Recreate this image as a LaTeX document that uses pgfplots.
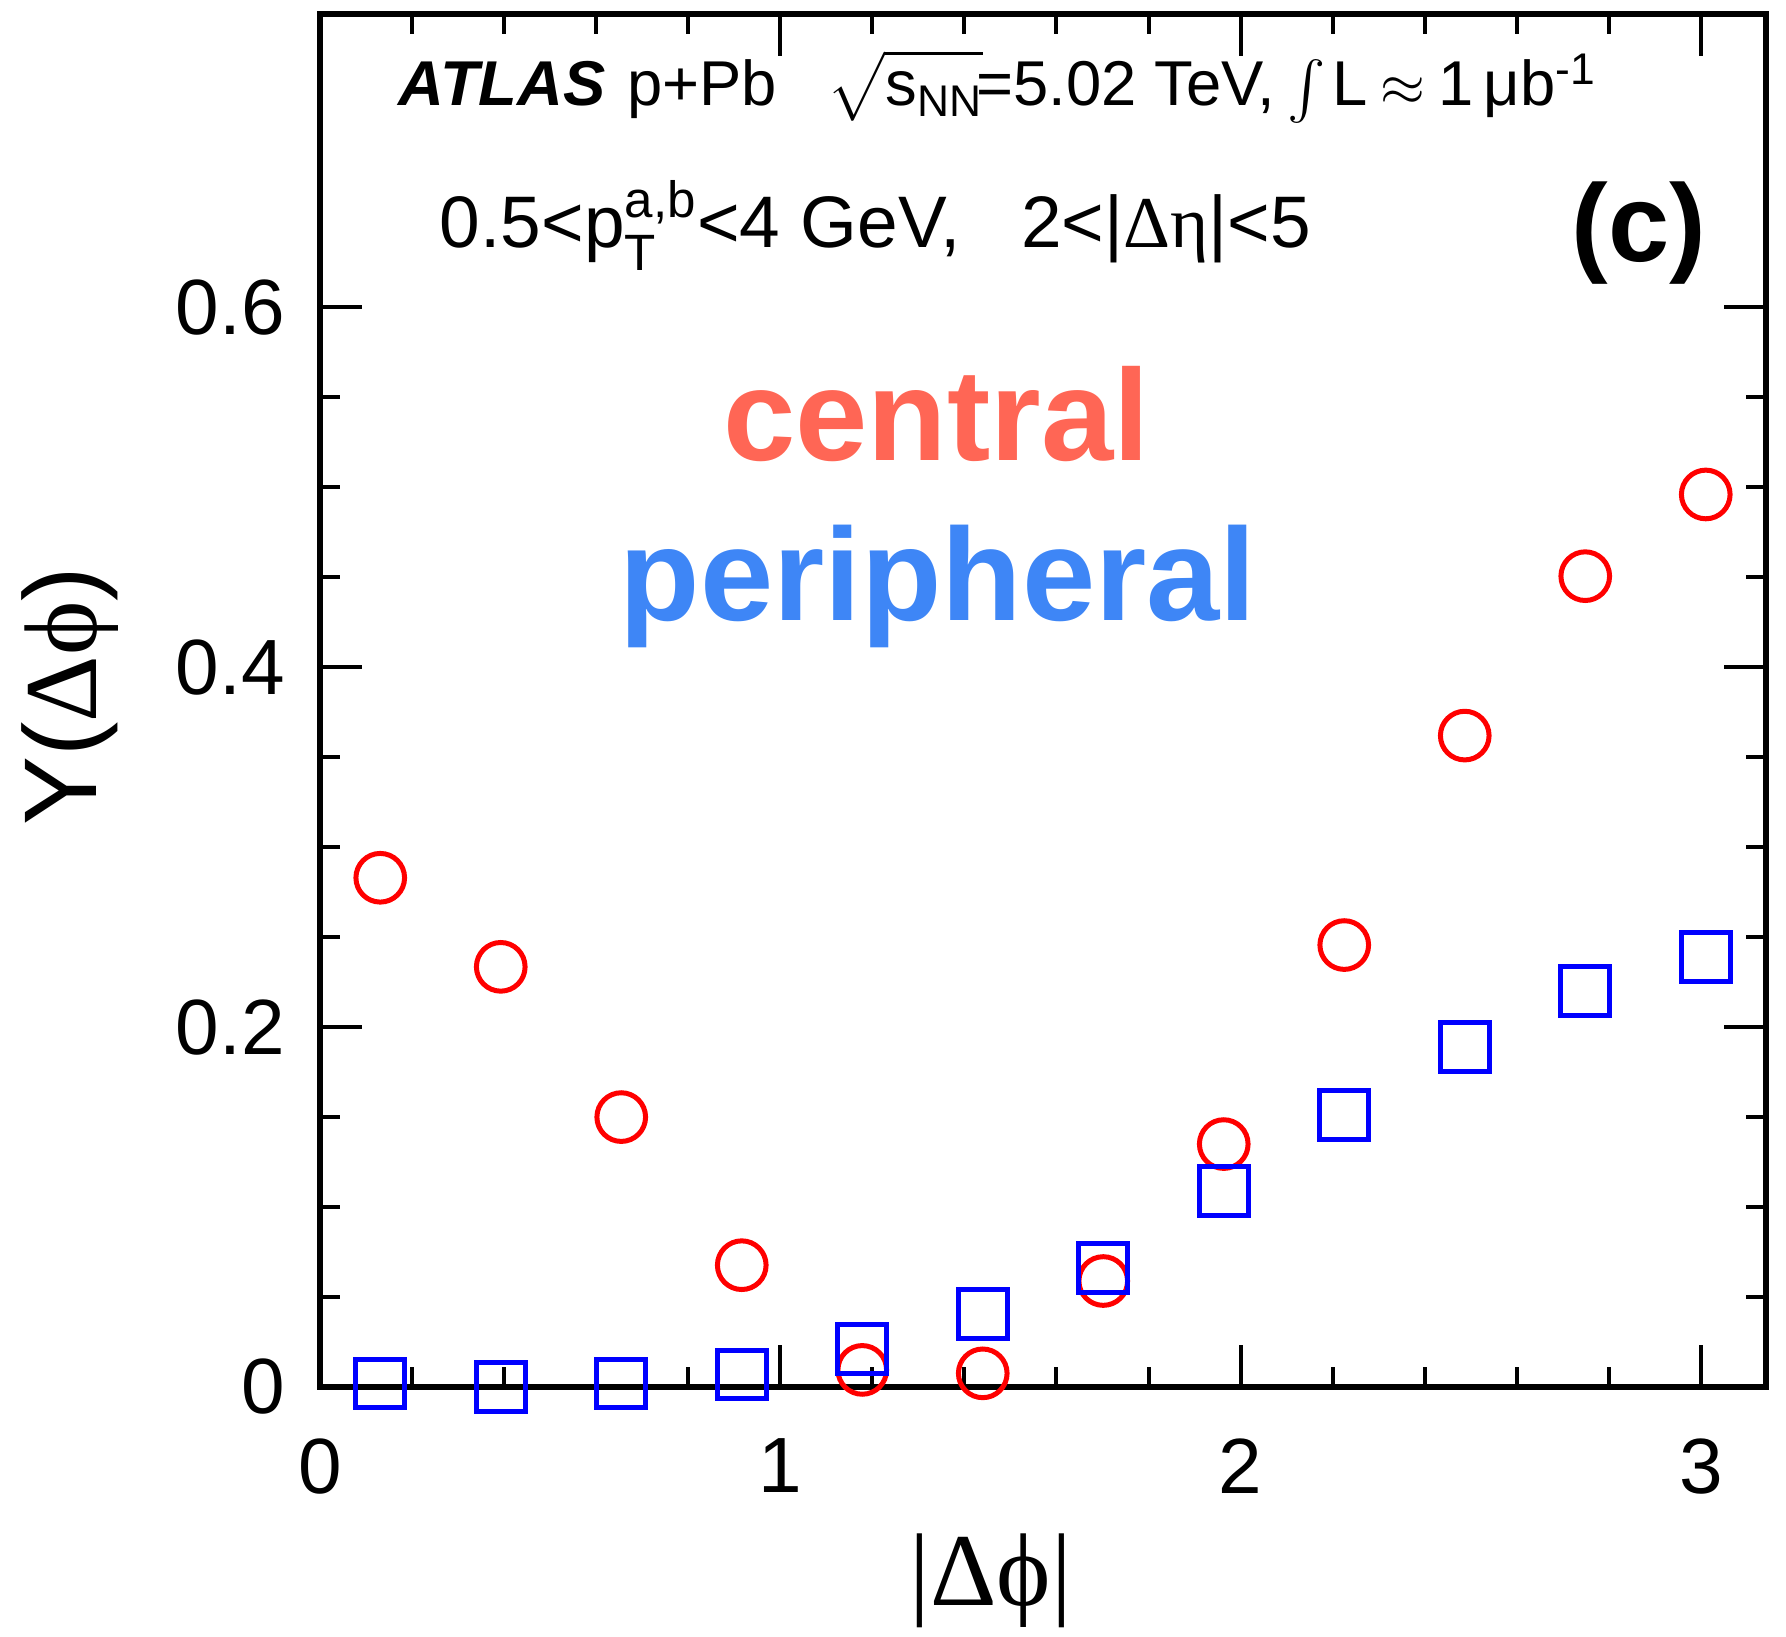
\documentclass[border=0pt]{standalone}
\usepackage{amsmath}
\usepackage{fontspec}
\setmainfont{Liberation Sans}
\newfontfamily\grk{Liberation Serif}
\usepackage{pgfplots}
\pgfplotsset{compat=1.18}
\definecolor{centralc}{RGB}{255,102,85}
\definecolor{periphc}{RGB}{62,134,246}
\begin{document}
\begin{tikzpicture}
\useasboundingbox (-96pt,-74.7pt) rectangle (439.8pt,416.1pt);
\begin{axis}[
  scale only axis,
  width=433.8pt, height=411.9pt,
  xmin=0, xmax=3.1416, ymin=0, ymax=0.763,
  clip=false,
  axis line style={line width=2pt},
  every tick/.style={black, line width=1.2pt},
  major tick length=12.5pt, minor tick length=6pt,
  tick align=inside,
  xtick={0,1,2,3}, minor x tick num=4,
  ytick={0,0.2,0.4,0.6}, minor y tick num=3,
  /pgf/number format/assume math mode=true,
  ticklabel style={font=\fontsize{23.5}{28}\selectfont},
  yticklabel style={/pgf/number format/fixed, /pgf/number format/precision=1, xshift=-7pt},
  xticklabel style={yshift=-12pt},
]
\addplot[only marks, mark=o, red, mark size=7.3pt, line width=1.5pt] coordinates {
(0.1309,0.283) (0.3927,0.2335) (0.6545,0.150) (0.9163,0.0677) (1.1781,0.0095) (1.4399,0.0076)
(1.7017,0.0589) (1.9635,0.135) (2.2253,0.2456) (2.4871,0.362) (2.7489,0.4506) (3.0107,0.496)
};
\addplot[only marks, mark=square, blue, mark size=7.3pt, line width=1.5pt] coordinates {
(0.1309,0.002) (0.3927,0.000) (0.6545,0.002) (0.9163,0.007) (1.1781,0.021) (1.4399,0.0405)
(1.7017,0.066) (1.9635,0.109) (2.2253,0.151) (2.4871,0.189) (2.7489,0.220) (3.0107,0.239)
};
\node[anchor=base west, font=\fontsize{19}{22}\selectfont] at (axis cs:0.146,0.712)
  {{\bfseries\itshape ATLAS}\hspace{0.35em}p+Pb\hspace{0.8em}$\sqrt{\vphantom{\text{(}}\text{s}_{\text{NN}}}$\hspace{-0.1em}=5.02 TeV,\hspace{0.2em}$\int$\hspace{0.1em}L\hspace{0.2em}$\approx$\hspace{0.2em}1\,μb$^{\text{-1}}$};
\node[anchor=base west, font=\fontsize{21.9}{26}\selectfont] at (axis cs:0.235,0.633)
  {0.5<p$_{\text{T}}^{\text{a,b}}$<4 GeV,\ \ \ 2<|{\grk Δη}|<5};
\node[font=\fontsize{33}{38}\bfseries] at (axis cs:2.866,0.641) {(c)};
\node[anchor=base, font=\fontsize{39}{44}\bfseries, text=centralc] at (axis cs:1.339,0.5146) {central};
\node[anchor=base, font=\fontsize{39.5}{44}\bfseries, text=periphc] at (axis cs:1.343,0.426) {peripheral};
\node[font=\fontsize{31}{36}\selectfont] at ([yshift=-58pt]axis description cs:0.464,0) {{\grk |Δϕ|}};
\node[rotate=90, font=\fontsize{31}{36}\selectfont] at ([xshift=-75pt]axis description cs:0,0.503) {Y({\grk Δϕ})};
\end{axis}
\end{tikzpicture}
\end{document}
